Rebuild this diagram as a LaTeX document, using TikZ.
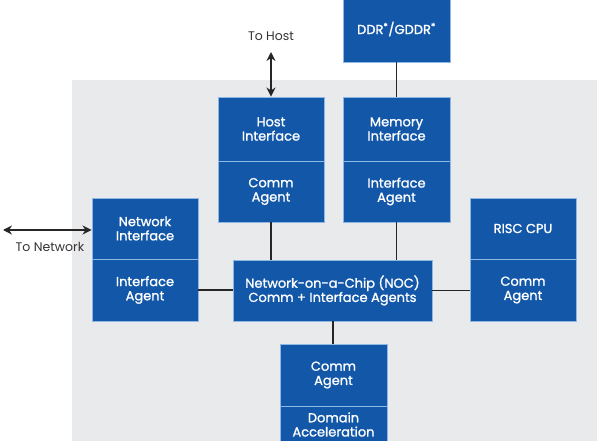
\documentclass[tikz,border=0pt]{standalone}
\usepackage{fontspec}
\setmainfont{Poppins}
\newfontfamily\medfont{Poppins}[FakeBold=1.2]
\usetikzlibrary{arrows.meta}
\definecolor{boxblue}{HTML}{1358A8}
\definecolor{edgeblue}{HTML}{8DB8E6}
\definecolor{bggray}{HTML}{E9EAEB}
\definecolor{labelgray}{HTML}{333333}
\tikzset{
  part/.style={draw=edgeblue, line width=0.9pt, fill=boxblue, text=white,
    align=center, inner sep=0pt, font=\medfont\fontsize{13}{14.2}\selectfont},
  conn/.style={line width=1.4pt, black!85},
  ext/.style={line width=1.5pt, black!85, {Stealth[length=9pt,width=9pt]}-{Stealth[length=9pt,width=9pt]}},
  lbl/.style={text=labelgray, font=\fontsize{12.5}{14}\selectfont, inner sep=0pt}
}
\begin{document}
\begin{tikzpicture}[x=1pt,y=-1pt]
\useasboundingbox (0,0) rectangle (600,441);
\fill[bggray] (72,80) rectangle (597,441);

% Host
\node[part, minimum width=106pt, minimum height=64pt] (hosti) at (271,129) {Host\\Interface};
\node[part, minimum width=106pt, minimum height=61pt] (hostc) at (271,191.5) {Comm\\Agent};
% Memory
\node[part, minimum width=107pt, minimum height=64pt] (memi) at (396.5,129) {Memory\\Interface};
\node[part, minimum width=107pt, minimum height=61pt] (memc) at (396.5,191.5) {Interface\\Agent};
% DDR
\node[part, minimum width=107pt, minimum height=66pt] (ddr) at (396.5,29) {DDR\textsuperscript{*}/GDDR\textsuperscript{*}};
% Network
\node[part, minimum width=106pt, minimum height=61pt] (neti) at (145,228.5) {Network\\Interface};
\node[part, minimum width=106pt, minimum height=62pt] (netc) at (145,290) {Interface\\Agent};
% RISC
\node[part, minimum width=106pt, minimum height=61pt] (risci) at (523,228.5) {RISC CPU};
\node[part, minimum width=106pt, minimum height=62pt] (riscc) at (523,290) {Comm\\Agent};
% NOC
\node[part, minimum width=199pt, minimum height=61pt] (noc) at (332.5,290.5) {Network-on-a-Chip (NOC)\\Comm + Interface Agents};
% Bottom
\node[part, minimum width=107pt, minimum height=62pt] (domc) at (333.5,375) {Comm\\Agent};
\node[part, minimum width=107pt, minimum height=37pt] (doma) at (333.5,424.5) {Domain\\Acceleration};

% external
\coordinate (tohost) at (271,52);
\coordinate (tonet) at (3,230);
\draw[ext] (tohost) -- (hosti.north);
\draw[ext] (tonet) -- (tonet -| neti.west);
\node[lbl] (hostlbl) at (271,36) {To Host};
\node[lbl] (netlbl) at (50,247) {To Network};

% connectors
\draw[conn] (ddr.south) -- (memi.north);
\draw[conn] (hostc.south) -- (hostc.south |- noc.north);
\draw[conn] (memc.south) -- (memc.south |- noc.north);
\draw[conn] (netc.east) -- (netc.east -| noc.west);
\draw[conn] (noc.east) -- (noc.east -| riscc.west);
\draw[conn] (domc.north -| 333,0) -- (noc.south -| 333,0);
\end{tikzpicture}
\end{document}
